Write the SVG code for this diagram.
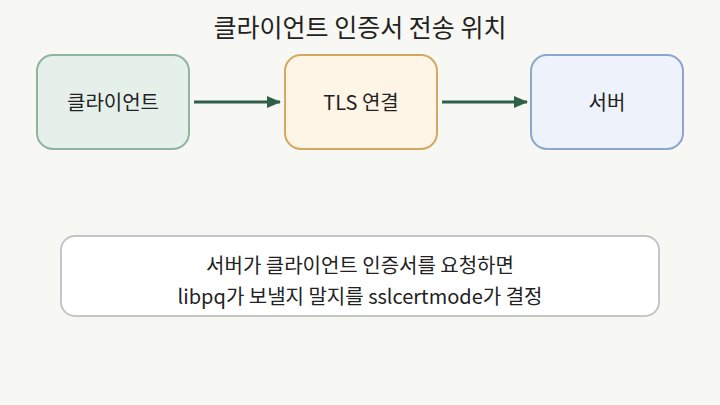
<svg xmlns="http://www.w3.org/2000/svg" width="720" height="405" viewBox="0 0 720 405">
<style>
text{font-family:"Noto Sans CJK KR","Noto Sans",sans-serif;fill:#222;text-anchor:middle;dominant-baseline:central}
.node{stroke-width:2}
.edge{stroke:#2f5f47;stroke-width:3;fill:none}
</style>
<defs>
<marker id="ah" markerWidth="14" markerHeight="12" refX="13" refY="6" orient="auto" markerUnits="userSpaceOnUse">
<path d="M0,0 L14,6 L0,12 Z" fill="#2f5f47"/>
</marker>
</defs>
<rect width="720" height="405" fill="#f7f8f3"/>
<text x="360" y="26" font-size="25">클라이언트 인증서 전송 위치</text>
<g id="client">
<rect class="node" x="37" y="55" width="152" height="94" rx="16" fill="#e6f0ea" stroke="#8fb5a1"/>
<text x="113" y="101" font-size="20">클라이언트</text>
</g>
<g id="tls">
<rect class="node" x="285" y="55" width="152" height="94" rx="16" fill="#fff5e6" stroke="#d2a95e"/>
<text x="361" y="101" font-size="20">TLS 연결</text>
</g>
<g id="server">
<rect class="node" x="531" y="55" width="152" height="94" rx="16" fill="#eef2fb" stroke="#8ea5cd"/>
<text x="607" y="101" font-size="20">서버</text>
</g>
<g id="connectors">
<line class="edge" x1="194" y1="102" x2="280" y2="102" marker-end="url(#ah)"/>
<line class="edge" x1="442" y1="102" x2="527" y2="102" marker-end="url(#ah)"/>
</g>
<g id="note">
<rect x="61" y="236" width="598" height="80" rx="14" fill="#ffffff" stroke="#c3c6c2" stroke-width="2"/>
<text x="360" y="264" font-size="20">서버가 클라이언트 인증서를 요청하면</text>
<text x="360" y="295" font-size="20">libpq가 보낼지 말지를 sslcertmode가 결정</text>
</g>
</svg>
